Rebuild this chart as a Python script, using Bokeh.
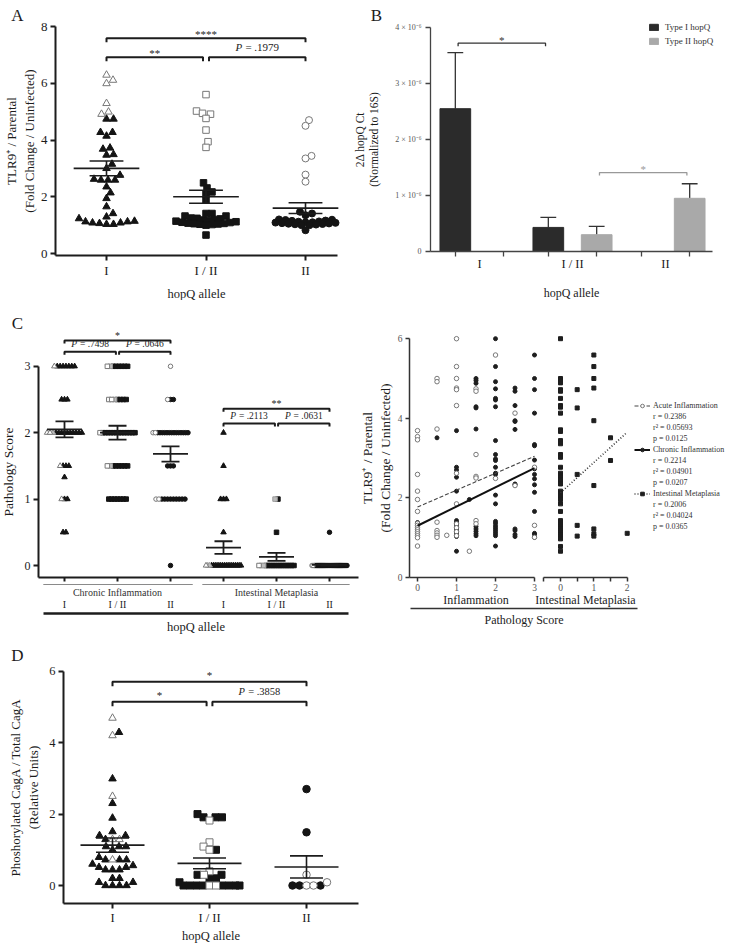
import math
from bokeh.plotting import figure
from bokeh.models import Range1d, FixedTicker, LinearAxis, Legend, LegendItem
from bokeh.layouts import column, row
from bokeh.embed import file_html
from bokeh.resources import INLINE
from bokeh.core.properties import value

FONT = "Liberation Serif"
INK = "#1c1c1c"
OPEN_LINE = "#777777"
GREY_FILL = "#bdbdbd"
GREY_LINE = "#9a9a9a"

# ---------------- data ----------------
alleles = ["I", "I / II", "II"]

# Panel A: TLR9+/parental fold change
a_I_open = [6.29, 6.11, 5.99, 5.29, 4.99, 4.91]
a_I_fill = [4.74, 4.74, 4.27, 4.27, 4.14, 3.72, 3.68, 3.49, 3.47, 3.15, 3.0, 2.76, 2.62, 2.59, 2.59, 2.59,
            2.35, 2.14, 1.94, 1.65, 1.41, 1.29, 1.23, 1.14, 1.12, 1.12, 1.08, 1.08, 1.06, 1.03, 1.03]
a_I_II_open = [5.6, 5.02, 4.94, 4.91, 4.76, 4.35, 3.94, 3.74]
a_I_II_fill = [2.49, 2.31, 2.17, 2.1, 1.88, 1.41, 1.41, 1.32, 1.32, 1.25, 1.24, 1.22, 1.2, 1.18, 1.16,
               1.14, 1.12, 1.1, 1.09, 1.07, 1.06, 1.05, 1.04, 1.03, 1.02, 1.0, 0.65]
a_II_open = [4.7, 4.5, 3.44, 3.35, 2.78, 2.53]
a_II_fill = [1.47, 1.41, 1.35, 1.2, 1.19, 1.18, 1.16, 1.15, 1.13, 1.12, 1.1, 1.1, 1.09, 1.08, 1.07,
             1.06, 1.05, 1.04, 1.03, 1.02, 1.0, 1.0, 0.82]
a_mean = [3.0, 2.0, 1.6]
a_sem = [0.26, 0.23, 0.19]
a_brackets = [(1, 3, 7.59, "****"), (1, 2, 6.92, "**"), (2, 3, 6.92, ".1979")]

# Panel B: 2^dCt hopQ (x 1e-6)
b_type1 = [2.55, 0.43, 0.0]
b_type1_err = [1.00, 0.18, 0.0]
b_type2 = [0.0, 0.30, 0.95]
b_type2_err = [0.0, 0.15, 0.26]
b_yticks = [0, 1, 2, 3, 4]
b_ytick_labels = ["0", "1 × 10⁻⁶", "2 × 10⁻⁶", "3 × 10⁻⁶", "4 × 10⁻⁶"]

# Panel C left: pathology scores (marker counts per score level)
c_scores = [3, 2.5, 2, 1.5, 1.33, 1, 0.5, 0]
c_groups = ["Chronic Inflammation", "Intestinal Metaplasia"]
c_open = [[1, 0, 2, 1, 0, 1, 0, 0], [1, 2, 1, 1, 0, 0, 0, 0], [1, 1, 2, 0, 0, 2, 0, 0],
          [0, 0, 0, 0, 0, 0, 0, 1], [0, 0, 0, 0, 0, 0, 0, 1], [0, 0, 0, 0, 0, 0, 0, 2]]
c_grey = [[0, 0, 1, 0, 0, 0, 0, 0], [1, 1, 0, 1, 0, 0, 0, 0], [0, 0, 0, 0, 0, 0, 0, 0],
          [0, 0, 0, 0, 0, 0, 0, 2], [0, 0, 0, 0, 0, 1, 0, 2], [0, 0, 0, 0, 0, 0, 0, 0]]
c_fill = [[7, 3, 10, 3, 1, 2, 2, 0], [6, 4, 13, 6, 0, 7, 0, 0], [0, 2, 14, 3, 0, 9, 0, 1],
          [0, 0, 1, 1, 0, 3, 1, 17], [0, 0, 0, 0, 0, 1, 1, 13], [0, 0, 0, 0, 0, 0, 1, 32]]
c_mean = [2.05, 2.0, 1.68, 0.27, 0.13, 0.01]
c_sem = [0.12, 0.105, 0.115, 0.095, 0.06, 0.01]
c_brackets = [(1, 3, 3.39, "*"), (1, 2, 3.22, ".7498"), (2, 3, 3.22, ".0646"),
              (4, 6, 2.36, "**"), (4, 5, 2.14, ".2113"), (5, 6, 2.14, ".0631")]

# Panel C right: TLR9 vs pathology score
ac_levels = [0, 0.5, 0.75, 1, 1.33, 1.5, 2, 2.5, 3]
ac_tlr9 = [[3.69, 3.54, 3.46, 2.59, 2.17, 1.96, 1.66, 1.36, 1.31, 1.25, 1.2, 1.15, 1.1, 1.05, 1.0, 0.79],
           [5.0, 4.92, 3.73, 1.39, 1.18, 1.12, 1.06, 1.01],
           [1.06],
           [6.0, 5.3, 5.0, 4.76, 4.72, 4.32, 2.62, 1.85, 1.35, 1.25, 1.15, 1.05],
           [0.66],
           [4.74, 4.68, 3.09, 2.54, 2.5, 1.43, 1.35],
           [5.59, 2.49],
           [4.13, 2.31],
           [2.77, 1.31, 1.01]]
ch_levels = [0, 0.5, 1, 1.33, 1.5, 2, 2.5, 3]
ch_tlr9 = [[1.38, 1.3, 1.22],
           [3.51],
           [3.69, 2.77, 2.7, 2.52, 2.17, 1.43, 1.38, 1.33, 1.28, 1.22, 1.18, 1.12, 1.08, 1.03, 0.66],
           [1.96],
           [5.0, 4.95, 4.88, 4.29, 4.26, 3.73, 1.28, 1.22, 1.16, 1.1, 1.05],
           [6.0, 5.3, 4.92, 4.74, 4.5, 4.46, 4.29, 3.44, 3.09, 2.98, 2.94, 2.77, 2.62, 2.59, 2.07, 1.85,
            1.41, 1.36, 1.3, 1.25, 1.2, 1.15, 1.1, 1.05, 0.79],
           [4.76, 4.68, 4.32, 3.94, 3.92, 3.72, 2.35, 2.33, 1.22, 1.18, 1.08, 1.03],
           [5.59, 5.0, 4.72, 4.13, 3.34, 3.31, 2.95, 2.73, 2.59, 2.48, 2.33, 2.14, 1.66, 1.11, 1.08, 1.01]]
im_levels = [0, 0.5, 1, 1.5, 2]
im_tlr9 = [[6.0, 5.0, 4.95, 4.89, 4.72, 4.68, 4.5, 4.32, 4.28, 4.13, 3.71, 3.67, 3.44, 3.36, 3.09, 3.02,
            2.77, 2.62, 2.56, 2.52, 2.45, 2.35, 2.17, 2.1, 2.04, 1.96, 1.85, 1.66, 1.43, 1.38, 1.33,
            1.28, 1.22, 1.17, 1.12, 1.07, 1.02, 0.97, 0.78, 0.66],
           [4.72, 4.26, 2.59, 1.31, 1.04],
           [5.59, 5.3, 5.0, 4.76, 3.94, 2.31, 1.22, 1.1, 1.04],
           [3.51, 2.94],
           [1.11]]
fit_names = ["Acute Inflammation", "Chronic Inflammation", "Intestinal Metaplasia"]
fit_intercept = [1.77, 1.30, 2.13]
fit_slope = [0.425, 0.483, 0.76]
fit_xmax = [3, 3, 2]
fit_r = ["0.2386", "0.2214", "0.2006"]
fit_r2 = ["0.05693", "0.04901", "0.04024"]
fit_p = ["0.0125", "0.0207", "0.0365"]

# Panel D: phosphorylated CagA / total CagA
d_I_open = [4.69, 4.2, 2.5, 1.29, 1.29, 0.72]
d_I_fill = [4.29, 2.99, 2.3, 1.89, 1.51, 1.4, 1.4, 1.29, 1.09, 1.09, 1.09, 1.0, 0.79, 0.72, 0.72, 0.72,
            0.6, 0.56, 0.51, 0.51, 0.44, 0.44, 0.44, 0.2, 0.2, 0.09, 0.09, 0, 0, 0, 0]
d_I_II_open = [1.82, 1.21, 1.09, 1.0, 0.4, 0.3, 0, 0]
d_I_II_fill = [2.0, 1.91, 1.91, 1.91, 1.0, 0.3, 0.3, 0.2, 0.2, 0.09, 0, 0, 0, 0, 0, 0, 0, 0]
d_II_open = [0.3, 0.09, 0, 0]
d_II_fill = [2.7, 1.49, 0, 0, 0]
d_mean = [1.13, 0.62, 0.52]
d_sem = [0.2, 0.15, 0.31]
d_brackets = [(1, 3, 5.71, "*"), (1, 2, 5.15, "*"), (2, 3, 5.15, ".3858")]


# ---------------- helpers ----------------
def make_fig(W, H, ppx, ax_val, ax_px, ppy, ay_val, ay_px):
    """Figure whose plotting frame covers the whole canvas; returns px->data converters."""
    x0 = ax_val - ax_px / ppx
    y1 = ay_val + ay_px / ppy
    p = figure(width=W, height=H, x_range=Range1d(x0, x0 + W / ppx), y_range=Range1d(y1 - H / ppy, y1),
               output_backend="svg", toolbar_location=None, title_location=None, min_border=0)
    p.outline_line_color = None
    p.grid.visible = False
    p.background_fill_color = "white"
    p.border_fill_color = "white"

    def X(px):
        return x0 + px / ppx

    def Y(py):
        return y1 - py / ppy
    return p, X, Y


def style_axis(ax, lw=2, color=INK, tick_out=5, size="13px", lcolor=INK, standoff=3,
               alabel_size="13px", alabel_standoff=5):
    ax.axis_line_width = lw
    ax.axis_line_color = color
    ax.major_tick_line_width = lw
    ax.major_tick_line_color = color
    ax.major_tick_out = tick_out
    ax.major_tick_in = 0
    ax.minor_tick_line_color = None
    ax.major_label_text_font = FONT
    ax.major_label_text_font_size = size
    ax.major_label_text_color = lcolor
    ax.major_label_standoff = standoff
    ax.axis_label_text_font = FONT
    ax.axis_label_text_font_style = "normal"
    ax.axis_label_text_font_size = alabel_size
    ax.axis_label_text_color = INK
    ax.axis_label_standoff = alabel_standoff


def panel_letter(p, X, Y, txt, px, py):
    p.text(x=[X(px)], y=[Y(py)], text=[txt], text_font=value(FONT), text_font_size="17px",
           text_align="center", text_baseline="middle", text_color=INK)


def bee(vals, center, ppx, ppy, size, cap, step=0.5):
    n = len(vals)
    order = sorted(range(n), key=lambda i: vals[i])
    kmax = int(cap // step)
    cands = [0.0]
    for k in range(1, kmax + 1):
        cands += [k * step, -k * step]
    placed = []
    xs = [0.0] * n
    for i in order:
        y = vals[i] * ppy
        best, bestd = 0.0, -1.0
        for c in cands:
            d = min((math.hypot(c - qx, y - qy) for qx, qy in placed), default=1e9)
            if d >= size:
                best = c
                break
            if d > bestd:
                bestd, best = d, c
        placed.append((best, y))
        xs[i] = center + best / ppx
    return xs


def draw_marks(p, marker, size, x, y, style):
    if style == "open":
        p.scatter(x, y, marker=marker, size=size, fill_color="white", line_color=OPEN_LINE, line_width=1)
    elif style == "grey":
        p.scatter(x, y, marker=marker, size=size, fill_color=GREY_FILL, line_color=GREY_LINE, line_width=1)
    else:
        p.scatter(x, y, marker=marker, size=size, fill_color="#141414", line_color="#141414", line_width=1)


def swarm_group(p, center, open_vals, fill_vals, marker, size, ppx, ppy, cap):
    vals = open_vals + fill_vals
    xs = bee(vals, center, ppx, ppy, size * 0.92, cap)
    no = len(open_vals)
    draw_marks(p, marker, size, xs[no:], fill_vals, "fill")
    draw_marks(p, marker, size, xs[:no], open_vals, "open")


def mean_sem(p, centers, means, sems, mw, sw, lw=1.6, color=INK):
    p.segment(x0=[c - mw for c in centers], x1=[c + mw for c in centers], y0=means, y1=means,
              line_color=color, line_width=lw)
    hi = [m + s for m, s in zip(means, sems)]
    lo = [m - s for m, s in zip(means, sems)]
    p.segment(x0=[c - sw for c in centers], x1=[c + sw for c in centers], y0=hi, y1=hi,
              line_color=color, line_width=lw)
    p.segment(x0=[c - sw for c in centers], x1=[c + sw for c in centers], y0=lo, y1=lo,
              line_color=color, line_width=lw)
    p.segment(x0=centers, x1=centers, y0=lo, y1=hi, line_color=color, line_width=lw)


def ptext(p, x, y, num, size, color=INK):
    wP = 0.61 * size
    gap = 0.3 * size
    rest = "= " + num
    wrest = (0.564 + 0.25 + 0.25 + 0.5 * len(num.strip("."))) * size
    W = wP + gap + wrest
    off = -W / 2 + wP
    p.text(x=[x], y=[y], text=["P"], text_font=value(FONT), text_font_style="italic",
           text_font_size=f"{size}px", text_align="right", text_baseline="middle",
           x_offset=off, text_color=color)
    p.text(x=[x], y=[y], text=[rest], text_font=value(FONT), text_font_size=f"{size}px",
           text_align="left", text_baseline="middle", x_offset=off + gap, text_color=color)


def brackets(p, specs, ppy, tick_px, star_px, p_px, lw, star_size, p_size, gap=0.03, color=INK,
             outer=(1, 3, 4, 6)):
    for (a, b, y, lab) in specs:
        x0, x1 = a, b
        if b - a == 1:
            x0 = a + (0 if a in outer else gap)
            x1 = b - (0 if b in outer else gap)
        t = tick_px / ppy
        p.multi_line(xs=[[x0, x0, x1, x1]], ys=[[y - t, y, y, y - t]], line_color=color, line_width=lw)
        xm = (x0 + x1) / 2
        if lab.startswith("."):
            ptext(p, xm, y + p_px / ppy, lab, p_size, color)
        else:
            p.text(x=[xm], y=[y + star_px / ppy], text=[lab], text_font=value(FONT),
                   text_font_size=f"{star_size}px", text_align="center", text_baseline="middle",
                   text_color=color)


def cat_ticks(ax, labels):
    ax.ticker = FixedTicker(ticks=list(range(1, len(labels) + 1)))
    ax.major_label_overrides = {i + 1: lab for i, lab in enumerate(labels)}


# ---------------- Panel A ----------------
ppxA, ppyA = 99.5, 28.375
pA, XA, YA = make_fig(340, 300, ppxA, 1, 106, ppyA, 0, 253)
ya = pA.yaxis[0]
style_axis(ya, size="13px", standoff=3, alabel_size="13px", alabel_standoff=1)
ya.fixed_location = XA(55)
ya.bounds = (-0.07, 8)
ya.ticker = FixedTicker(ticks=[0, 2, 4, 6, 8])
ya.axis_label = "TLR9⁺ / Parental\n(Fold Change / Uninfected)"
xa = pA.xaxis[0]
style_axis(xa, size="13px", standoff=3, alabel_size="12.5px", alabel_standoff=5)
xa.fixed_location = -0.07
xa.bounds = (XA(55), XA(337))
cat_ticks(xa, alleles)
xa.axis_label = "hopQ allele"
swarm_group(pA, 1, a_I_open, a_I_fill, "triangle", 7.5, ppxA, ppyA, 31)
swarm_group(pA, 2, a_I_II_open, a_I_II_fill, "square", 6.5, ppxA, ppyA, 31)
swarm_group(pA, 3, a_II_open, a_II_fill, "circle", 7, ppxA, ppyA, 31)
mean_sem(pA, [1, 2, 3], a_mean, a_sem, 0.33, 0.17)
brackets(pA, a_brackets, ppyA, 4, 4.5, 10, 2, 11, 11)
panel_letter(pA, XA, YA, "A", 17, 15)

# ---------------- Panel B ----------------
ppxB, ppyB = 93.0, 56.0
pB, XB, YB = make_fig(390, 300, ppxB, 1, 139, ppyB, 0, 251)
dodge, bw = 0.26, 0.33
yb = pB.yaxis[0]
style_axis(yb, lw=1.3, color="#444444", tick_out=5, size="8px", lcolor="#555555", standoff=4,
           alabel_size="11.5px", alabel_standoff=12)
yb.fixed_location = XB(90)
yb.bounds = (0, 4)
yb.ticker = FixedTicker(ticks=b_yticks)
yb.major_label_overrides = {t: lab for t, lab in zip(b_yticks, b_ytick_labels)}
yb.axis_label = "2Δ hopQ Ct\n(Normalized to 16S)"
xb = pB.xaxis[0]
style_axis(xb, lw=1.3, color="#444444", tick_out=0, size="12.5px", standoff=0,
           alabel_size="12px", alabel_standoff=12)
xb.fixed_location = 0
xb.bounds = (XB(90), XB(372))
xb.ticker = FixedTicker(ticks=[1, 2, 3], minor_ticks=[c + s * dodge for c in (1, 2, 3) for s in (-1, 1)])
xb.major_label_overrides = {i + 1: lab for i, lab in enumerate(alleles)}
xb.minor_tick_line_color = "#444444"
xb.minor_tick_line_width = 1.3
xb.minor_tick_out = 5
xb.minor_tick_in = 0
xb.axis_label = "hopQ allele"
x1 = [i + 1 - dodge for i, v in enumerate(b_type1) if v > 0]
v1 = [v for v in b_type1 if v > 0]
e1 = [e for v, e in zip(b_type1, b_type1_err) if v > 0]
x2 = [i + 1 + dodge for i, v in enumerate(b_type2) if v > 0]
v2 = [v for v in b_type2 if v > 0]
e2 = [e for v, e in zip(b_type2, b_type2_err) if v > 0]
for xs, vs, es in ((x1, v1, e1), (x2, v2, e2)):
    tops = [v + e for v, e in zip(vs, es)]
    pB.segment(x0=xs, x1=xs, y0=vs, y1=tops, line_color="#333333", line_width=1.3)
    pB.segment(x0=[x - 0.085 for x in xs], x1=[x + 0.085 for x in xs], y0=tops, y1=tops,
               line_color="#333333", line_width=1.3)
r1 = pB.vbar(x=x1, top=v1, width=bw, bottom=0, fill_color="#2b2b2b", line_color="#2b2b2b")
r2 = pB.vbar(x=x2, top=v2, width=bw, bottom=0, fill_color="#a9a9a9", line_color="#a9a9a9")
brackets(pB, [(1 - dodge, 2 - dodge, 3.72, "*")], ppyB, 3, 3.5, 8, 1.3, 11, 10, color="#333333")
brackets(pB, [(2 + dodge, 3 + dodge, 1.41, "*")], ppyB, 3, 3.5, 8, 1.3, 11, 10, color="#999999")
legB = Legend(items=[LegendItem(label="Type I hopQ", renderers=[r1]),
                     LegendItem(label="Type II hopQ", renderers=[r2])],
              location=(308, 254))
legB.label_text_font = FONT
legB.label_text_font_size = "9px"
legB.label_text_color = "#333333"
legB.glyph_width = 11
legB.glyph_height = 8
legB.label_height = 9
legB.spacing = 4
legB.padding = 0
legB.margin = 0
legB.label_standoff = 6
legB.border_line_color = None
legB.background_fill_alpha = 0
pB.add_layout(legB)
panel_letter(pB, XB, YB, "B", 36, 15)

# ---------------- Panel C left ----------------
ppxC1, ppyC1 = 53.0, 66.4
pC1, XC1, YC1 = make_fig(360, 336, ppxC1, 1, 64, ppyC1, 0, 265)
yc = pC1.yaxis[0]
style_axis(yc, size="12px", standoff=3, alabel_size="13.5px", alabel_standoff=6, tick_out=5)
yc.fixed_location = XC1(38)
yc.bounds = (-0.18, 3)
yc.ticker = FixedTicker(ticks=[0, 1, 2, 3])
yc.axis_label = "Pathology Score"
xc = pC1.xaxis[0]
style_axis(xc, lw=2, tick_out=4, size="10px", standoff=18)
xc.fixed_location = -0.18
xc.bounds = (XC1(38), XC1(358))
cat_ticks(xc, alleles + alleles)
xc2 = LinearAxis(fixed_location=YC1(313), bounds=(XC1(43), XC1(348)), ticker=FixedTicker(ticks=[]))
style_axis(xc2, lw=2.5, tick_out=0, size="1px", alabel_size="12.5px", alabel_standoff=6)
xc2.axis_label = "hopQ allele"
pC1.add_layout(xc2, "below")
for gi, gname in enumerate(c_groups):
    a0, a1 = 3 * gi + 1, 3 * gi + 3
    pC1.segment(x0=[a0 - 0.4], x1=[a1 + 0.42 - 0.04 * gi], y0=[YC1(284)], y1=[YC1(284)],
                line_color="#8a8a8a", line_width=1)
    pC1.text(x=[(a0 + a1) / 2], y=[YC1(292)], text=[gname], text_font=value(FONT),
             text_font_size="10px", text_align="center", text_baseline="middle", text_color="#333333")
shapes = ["triangle", "square", "circle"]
sizes = [5.5, 4.5, 4.5]
for g in range(6):
    center = g + 1
    step, cap = 2.9 / ppxC1, 17.5 / ppxC1
    xs_by = {"open": ([], []), "grey": ([], []), "fill": ([], [])}
    for j, sc in enumerate(c_scores):
        seq = ["open"] * c_open[g][j] + ["grey"] * c_grey[g][j] + ["fill"] * c_fill[g][j]
        n = len(seq)
        if n == 0:
            continue
        st = step if n == 1 else min(step, 2 * cap / (n - 1))
        for i, s in enumerate(seq):
            xs_by[s][0].append(center + (i - (n - 1) / 2) * st)
            xs_by[s][1].append(sc)
    for s in ("fill", "grey", "open"):
        if xs_by[s][0]:
            draw_marks(pC1, shapes[g % 3], sizes[g % 3], xs_by[s][0], xs_by[s][1], s)
mean_sem(pC1, [1, 2, 3, 4, 5, 6], c_mean, c_sem, 0.33, 0.17, lw=1.8)
brackets(pC1, c_brackets, ppyC1, 3, 5, 7.5, 2, 10, 9.5, gap=0.03)
panel_letter(pC1, XC1, YC1, "C", 17, 23)

# ---------------- Panel C right ----------------
ppxC2, ppyC2 = 39.0, 39.8
pC2, XC2, YC2 = make_fig(370, 336, ppxC2, 0, 57, ppyC2, 0, 277)


def im_x(m):
    return 3.667 + 0.855 * m


yr_ = pC2.yaxis[0]
style_axis(yr_, lw=1.5, color="#333333", tick_out=4, size="9.5px", lcolor="#555555", standoff=3,
           alabel_size="13.5px", alabel_standoff=2)
yr_.fixed_location = XC2(49)
yr_.bounds = (0, 6)
yr_.ticker = FixedTicker(ticks=[0, 2, 4, 6])
yr_.axis_label = "TLR9⁺ / Parental\n(Fold Change / Uninfected)"
xL = pC2.xaxis[0]
style_axis(xL, lw=1.5, color="#333333", tick_out=4, size="9.5px", lcolor="#555555", standoff=2)
xL.fixed_location = 0
xL.bounds = (XC2(49), 3.0)
xL.ticker = FixedTicker(ticks=[0, 1, 2, 3])
im_ticks = [im_x(0), im_x(1), im_x(2)]
xR = LinearAxis(fixed_location=0, bounds=(im_x(-0.5), im_x(2)),
                ticker=FixedTicker(ticks=im_ticks, minor_ticks=[im_x(-0.5), im_x(0.5), im_x(1.5)]))
style_axis(xR, lw=1.5, color="#333333", tick_out=4, size="9.5px", lcolor="#555555", standoff=2)
xR.major_label_overrides = {t: lab for t, lab in zip(im_ticks, ["0", "1", "2"])}
xR.minor_tick_line_color = "#333333"
xR.minor_tick_line_width = 1.5
xR.minor_tick_out = 4
xR.minor_tick_in = 0
pC2.add_layout(xR, "below")
xP = LinearAxis(fixed_location=YC2(308), bounds=(XC2(50), XC2(277)), ticker=FixedTicker(ticks=[]))
style_axis(xP, lw=1.5, color="#333333", tick_out=0, size="1px", alabel_size="12px", alabel_standoff=4)
xP.axis_label = "Pathology Score"
pC2.add_layout(xP, "below")
pC2.text(x=[1.5, (im_x(-0.5) + im_x(2)) / 2], y=[YC2(299), YC2(299)],
         text=["Inflammation", "Intestinal Metaplasia"], text_font=value(FONT),
         text_font_size="12px", text_align="center", text_baseline="middle", text_color=INK)

acx = [lv for lv, vals in zip(ac_levels, ac_tlr9) for _ in vals]
acy = [v for vals in ac_tlr9 for v in vals]
chx = [lv for lv, vals in zip(ch_levels, ch_tlr9) for _ in vals]
chy = [v for vals in ch_tlr9 for v in vals]
imx = [im_x(lv) for lv, vals in zip(im_levels, im_tlr9) for _ in vals]
imy = [v for vals in im_tlr9 for v in vals]
sc_ch = pC2.scatter(chx, chy, marker="circle", size=4, fill_color="#1e1e1e", line_color="#1e1e1e")
sc_ac = pC2.scatter(acx, acy, marker="circle", size=4.5, fill_color="white", line_color="#6a6a6a",
                    line_width=0.9)
sc_im = pC2.scatter(imx, imy, marker="square", size=4, fill_color="#1e1e1e", line_color="#1e1e1e")
ln = []
dashes = ["4 2", "solid", "1 2"]
widths = [1.1, 2.0, 1.6]
lcolors = ["#444444", "#111111", "#333333"]
for k in range(3):
    xs = [0, fit_xmax[k]]
    ys = [fit_intercept[k] + fit_slope[k] * x for x in xs]
    if k == 2:
        xs = [im_x(x) for x in xs]
    ln.append(pC2.line(xs, ys, line_dash=dashes[k], line_width=widths[k], line_color=lcolors[k]))
dummy = pC2.scatter([], [], size=1, fill_alpha=0, line_alpha=0)
items = []
for k, scr in enumerate([sc_ac, sc_ch, sc_im]):
    items.append(LegendItem(label=fit_names[k], renderers=[ln[k], scr]))
    items.append(LegendItem(label="r = " + fit_r[k], renderers=[dummy]))
    items.append(LegendItem(label="r² = " + fit_r2[k], renderers=[dummy]))
    items.append(LegendItem(label="p = " + fit_p[k], renderers=[dummy]))
legC = Legend(items=items, location=(274, 105))
legC.label_text_font = FONT
legC.label_text_font_size = "8px"
legC.label_text_color = "#333333"
legC.glyph_width = 16
legC.glyph_height = 9
legC.label_height = 9
legC.spacing = 2
legC.padding = 0
legC.margin = 0
legC.label_standoff = 3
legC.border_line_color = None
legC.background_fill_alpha = 0
pC2.add_layout(legC)

# ---------------- Panel D ----------------
ppxD, ppyD = 97.0, 35.7
pD, XD, YD = make_fig(360, 308, ppxD, 1, 112, ppyD, 0, 249)
yd = pD.yaxis[0]
style_axis(yd, size="12.5px", standoff=3, alabel_size="13px", alabel_standoff=5)
yd.fixed_location = XD(63)
yd.bounds = (-0.5, 6)
yd.ticker = FixedTicker(ticks=[0, 2, 4, 6])
yd.axis_label = "Phoshorylated CagA / Total CagA\n(Relative Units)"
xd = pD.xaxis[0]
style_axis(xd, size="12.5px", standoff=3, alabel_size="12.5px", alabel_standoff=0)
xd.fixed_location = -0.5
xd.bounds = (XD(63), XD(358))
cat_ticks(xd, alleles)
xd.axis_label = "hopQ allele"
swarm_group(pD, 1, d_I_open, d_I_fill, "triangle", 7.5, ppxD, ppyD, 30)
swarm_group(pD, 2, d_I_II_open, d_I_II_fill, "square", 7, ppxD, ppyD, 30)
swarm_group(pD, 3, d_II_open, d_II_fill, "circle", 7.5, ppxD, ppyD, 30)
mean_sem(pD, [1, 2, 3], d_mean, d_sem, 0.33, 0.17)
brackets(pD, d_brackets, ppyD, 4.5, 7, 10, 2, 11, 10.5)
panel_letter(pD, XD, YD, "D", 17, 19)

layout = column(row(pA, pB), row(pC1, pC2), row(pD))
open("out.html", "w").write(file_html(layout, INLINE))
